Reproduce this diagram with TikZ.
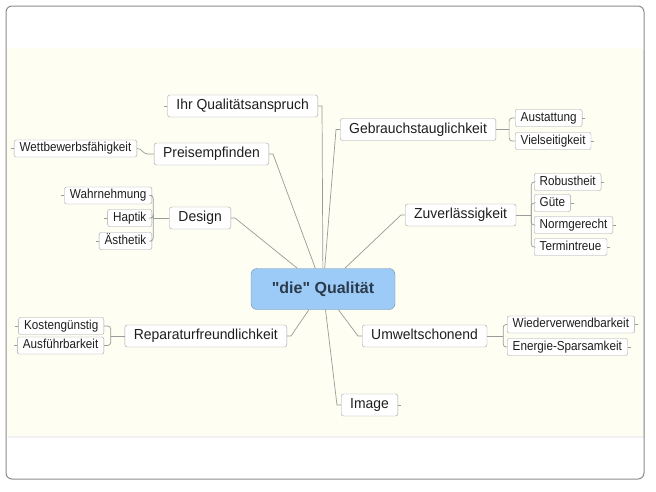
\documentclass[tikz,border=0pt]{standalone}
\usepackage{fontspec}
\setmainfont{Liberation Sans}
\newfontfamily\branchfont{Liberation Sans}[FakeStretch=0.96]
\newfontfamily\leaffont{Liberation Sans}[FakeStretch=0.9]
\usepackage{xcolor}
\usetikzlibrary{calc}
\definecolor{panel}{HTML}{FEFEF3}
\definecolor{framegray}{HTML}{8C8C8C}
\definecolor{boxgray}{HTML}{A3A3A3}
\definecolor{linkgray}{HTML}{9A9A9A}
\definecolor{inkgray}{HTML}{1E1E1E}
\definecolor{qblue}{HTML}{9DCBF7}
\definecolor{qedge}{HTML}{6F8CA8}
\definecolor{qink}{HTML}{2C3B4B}
\tikzset{
    branch/.style={draw=boxgray, fill=white, rounded corners=2.5pt, text=inkgray,
        font=\branchfont\fontsize{14.5}{16}\selectfont, inner xsep=9pt, inner ysep=0pt,
        minimum height=22pt, text height=10.6pt, text depth=3pt},
    leaf/.style={draw=boxgray, fill=white, rounded corners=2pt, text=inkgray,
        font=\leaffont\fontsize{13}{15}\selectfont, inner xsep=5.5pt, inner ysep=0pt,
        minimum height=17pt, text height=9.4pt, text depth=2.7pt},
    link/.style={draw=linkgray, line width=0.7pt},
    fork/.style={link, rounded corners=3pt},
}

\begin{document}
\begin{tikzpicture}[x=1pt, y=-1pt]
    \useasboundingbox (0,0) rectangle (656,491);
    % panel and frame
    \fill[gray!10] (8,50) rectangle (645,438);
    \fill[panel] (6,48) rectangle (643,436);
    \draw[framegray, line width=1pt, rounded corners=6pt] (6,6) rectangle (644,479);

    \node[draw=qedge, fill=qblue, rounded corners=6pt, minimum width=144pt, minimum height=41pt,
        font=\bfseries\fontsize{16}{18}\selectfont, text=qink] (q) at (323,289)
        {\textquotedbl die\textquotedbl{} Qualität};

    % main branches
    \node[branch, anchor=east] (ihr) at (318,106) {Ihr Qualitätsanspruch};
    \node[branch, anchor=east] (preis) at (269,154) {Preisempfinden};
    \node[branch, anchor=east] (design) at (231,218) {Design};
    \node[branch, anchor=east] (rep) at (287,336) {Reparaturfreundlichkeit};
    \node[branch, anchor=west] (gebr) at (340,129.5) {Gebrauchstauglichkeit};
    \node[branch, anchor=west] (zuv) at (405,215) {Zuverlässigkeit};
    \node[branch, anchor=west] (umw) at (362,336) {Umweltschonend};
    \node[branch, anchor=west] (image) at (341,405) {Image};

    % leaves
    \node[leaf, anchor=east] (wett) at (137,148.5) {Wettbewerbsfähigkeit};
    \node[leaf, anchor=east] (wahr) at (152,195.5) {Wahrnehmung};
    \node[leaf, anchor=east] (hapt) at (152,218) {Haptik};
    \node[leaf, anchor=east] (aest) at (152,241) {Ästhetik};
    \node[leaf, anchor=east] (kost) at (104,326) {Kostengünstig};
    \node[leaf, anchor=east] (ausf) at (104,345.5) {Ausführbarkeit};
    \node[leaf, anchor=west] (aust) at (515,118) {Austattung};
    \node[leaf, anchor=west] (viel) at (515,141) {Vielseitigkeit};
    \node[leaf, anchor=west] (robu) at (534,182) {Robustheit};
    \node[leaf, anchor=west] (guete) at (534,203) {Güte};
    \node[leaf, anchor=west] (norm) at (534,225) {Normgerecht};
    \node[leaf, anchor=west] (term) at (534,247) {Termintreue};
    \node[leaf, anchor=west] (wied) at (507,324.5) {Wiederverwendbarkeit};
    \node[leaf, anchor=west] (ener) at (507,347) {Energie-Sparsamkeit};

    % center to branches
    \foreach \b in {ihr,preis,design,rep}
        \draw[link] (q) -- ([xshift=4pt]\b.east) -- (\b);
    \foreach \b in {gebr,zuv,umw,image}
        \draw[link] (q) -- ([xshift=-4pt]\b.west) -- (\b);

    % forks to leaves
    \coordinate (pj) at ([xshift=-9pt]preis.west);
    \coordinate (dj) at ([xshift=-16pt]design.west);
    \coordinate (rj) at ([xshift=-14pt]rep.west);
    \coordinate (gj) at ([xshift=13pt]gebr.east);
    \coordinate (zj) at ([xshift=15pt]zuv.east);
    \coordinate (uj) at ([xshift=16pt]umw.east);
    \draw[fork] (preis) -- (pj) -- ([xshift=3pt]wett.east) -- (wett);
    \draw[link] (design) -- (dj);
    \draw[link] (rep) -- (rj);
    \draw[link] (gebr) -- (gj);
    \draw[link] (zuv) -- (zj);
    \draw[link] (umw) -- (uj);
    \foreach \c in {wahr,hapt,aest} \draw[fork] (dj) |- (\c);
    \foreach \c in {kost,ausf} \draw[fork] (rj) |- (\c);
    \foreach \c in {aust,viel} \draw[fork] (gj) |- (\c);
    \foreach \c in {robu,guete,norm,term} \draw[fork] (zj) |- (\c);
    \foreach \c in {wied,ener} \draw[fork] (uj) |- (\c);

    % open ends
    \foreach \c in {ihr,wett,wahr,hapt,aest,kost,ausf}
        \draw[link] (\c.west) -- ++(-3,0);
    \foreach \c in {image,aust,viel,robu,guete,norm,term,wied,ener}
        \draw[link] (\c.east) -- ++(3,0);
\end{tikzpicture}
\end{document}
